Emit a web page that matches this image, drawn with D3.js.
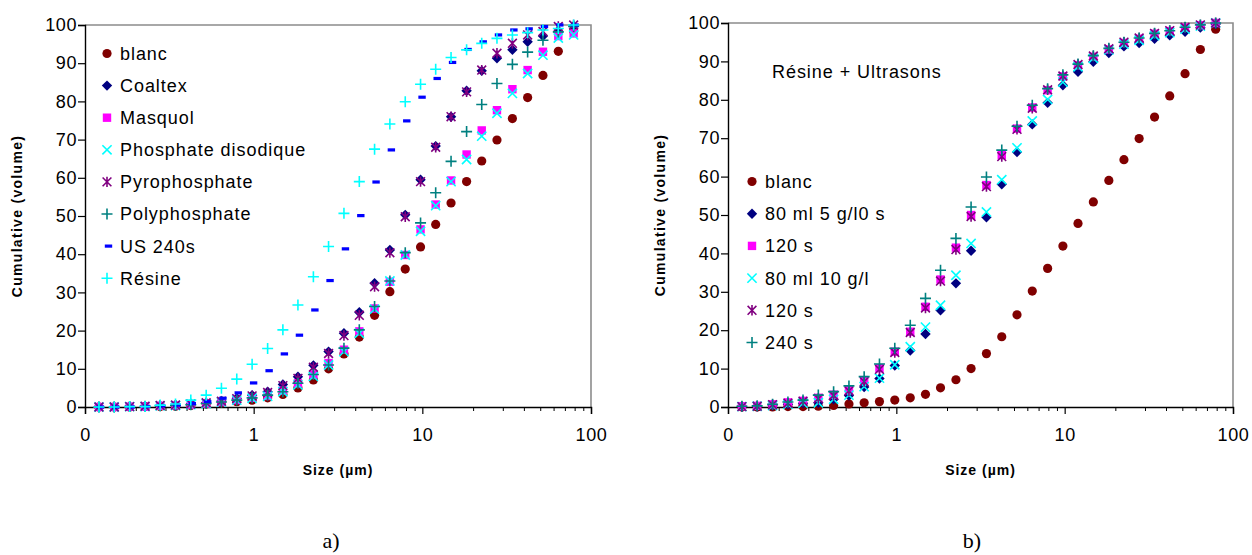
<!DOCTYPE html>
<html><head><meta charset="utf-8">
<script src="https://cdn.jsdelivr.net/npm/d3@7"></script>
<style>
body{margin:0;background:#fff}
svg{display:block}
text{fill:#000}
</style>
</head><body>
<svg id="chart" width="1252" height="555"></svg>
<script>
// ---------------- DATA ----------------
const sizes = [0.121,0.149,0.184,0.227,0.279,0.344,0.424,0.523,0.644,0.794,0.979,1.21,1.49,1.83,2.26,2.78,3.43,4.23,5.21,6.42,7.92,9.76,12.0,14.8,18.3,22.5,27.7,34.2,42.1,51.9,64.0,78.9];

// panel a
const blanc      = [0,0,0,0.1,0.1,0.2,0.4,0.8,1.1,1.4,1.8,2.4,3.3,5.0,7.1,10.0,13.9,18.3,24.0,30.2,36.1,41.9,47.8,53.4,59.0,64.4,69.9,75.5,81.0,86.8,93.1,98.4];
const coaltex    = [0,0,0.1,0.2,0.4,0.5,0.8,1.1,1.6,2.3,3.1,4.0,5.9,7.9,10.9,14.5,19.3,24.8,32.4,41.1,50.3,59.5,68.3,76.0,82.8,88.0,91.3,93.5,95.6,97.1,98.2,99.7];
const masquol    = [0,0,0.1,0.1,0.3,0.4,0.6,0.9,1.3,1.8,2.4,2.9,4.3,6.2,8.5,11.5,15.0,19.8,25.8,32.8,39.8,46.5,53.0,59.3,66.1,72.4,77.7,83.2,88.2,93.0,97.1,97.8];
const phosphate  = [0,0,0.1,0.1,0.3,0.4,0.6,0.9,1.3,1.8,2.3,2.8,4.0,5.8,8.0,11.0,14.5,19.3,25.6,33.0,39.8,46.0,52.7,59.0,64.8,70.9,76.9,82.1,87.3,92.1,96.6,97.4];
const pyro       = [0,0,0.1,0.2,0.4,0.5,0.8,1.1,1.5,2.2,2.9,3.8,5.6,7.5,10.4,14.0,18.7,24.0,31.5,40.4,49.8,59.0,68.0,76.0,82.5,88.2,92.6,95.2,97.4,98.3,99.6,100];
const polyphos   = [0,0,0.1,0.2,0.3,0.4,0.6,0.9,1.3,1.8,2.4,3.1,4.0,6.2,8.5,11.0,15.4,20.2,26.3,33.0,40.4,48.2,56.1,64.3,72.1,79.2,84.7,89.7,92.9,96.0,98.2,99.6];
const us240      = [0,0,0,0.1,0.3,0.5,0.9,1.4,2.3,3.7,6.3,9.5,13.9,18.8,25.4,33.1,41.4,50.1,58.9,67.3,74.9,81.1,86.0,90.2,93.6,95.6,97.4,98.7,99.0,99.6,100,100];
const resine     = [0,0,0.1,0.1,0.5,0.8,1.8,3.1,4.9,7.3,11.2,15.3,20.2,26.7,34.1,42.0,50.7,59.0,67.5,74.1,79.9,84.5,88.4,91.5,93.5,95.2,96.5,97.4,98.0,98.7,99.1,100];

// panel b
const b5g0s      = [0.1,0.2,0.4,0.7,1.0,1.1,2.0,3.0,5.2,7.4,10.8,14.7,19.0,25.2,32.2,40.7,49.4,58.0,66.4,73.6,79.2,83.8,87.3,89.9,92.2,93.9,94.8,95.9,96.8,97.7,98.8,99.7];
const b120sSq    = [0.2,0.3,0.7,1.2,1.6,2.4,3.2,4.4,7.0,10.1,14.4,19.6,26.1,33.2,41.5,50.0,57.8,65.6,72.5,78.0,82.5,86.1,89.0,91.2,93.1,94.8,95.9,97.2,97.9,98.8,99.4,100];
const b10g       = [0.1,0.2,0.4,0.7,1.0,1.1,2.0,3.1,5.3,7.5,11.0,15.7,20.8,26.5,34.3,42.6,50.8,59.2,67.5,74.5,80.1,84.6,88.6,90.8,93.0,94.5,95.5,96.7,97.5,98.4,99.2,100];
const b120sStar  = [0.1,0.2,0.6,1.0,1.5,2.2,3.0,4.2,6.6,9.8,14.2,19.4,25.8,32.8,41.0,49.6,57.4,65.2,72.3,77.8,82.6,86.2,89.2,91.4,93.3,95.0,96.1,97.3,98.0,98.9,99.5,100];
const b240s      = [0.2,0.3,0.7,1.3,1.8,3.1,4.0,5.5,7.9,11.2,15.3,21.3,28.3,35.6,43.9,52.1,59.9,66.9,73.1,78.6,82.9,86.5,89.3,91.5,93.4,95.0,96.1,97.3,98.0,98.9,99.5,100];

const namesA = ["blanc","Coaltex","Masquol","Phosphate disodique","Pyrophosphate","Polyphosphate","US 240s","Résine"];
const namesB = ["blanc","80 ml 5 g/l0 s","120 s","80 ml 10 g/l","120 s","240 s"];
const yTicks = [0,10,20,30,40,50,60,70,80,90,100];
const xTicks = [0.1,1,10,100];
const xTickLabels = ["0","1","10","100"];
const xMinor = [0.2,0.3,0.4,0.5,0.6,0.7,0.8,0.9,2,3,4,5,6,7,8,9,20,30,40,50,60,70,80,90];
const yTitle = "Cumulative (volume)";
const xTitle = "Size (µm)";
const panelTags = ["a)","b)"];
const noteB = "Résine + Ultrasons";

// ---------------- STYLES ----------------
const SANS = "'Liberation Sans', Arial, sans-serif";
const SERIF = "'Liberation Serif', 'Times New Roman', serif";
const SYM = {
  circle:  {d: d3.symbol(d3.symbolCircle, Math.PI*4.6*4.6)(), fill:true},
  diamond: {d: "M0,-5.2L5.2,0L0,5.2L-5.2,0Z", fill:true},
  square:  {d: "M-4.2,-4.2H4.2V4.2H-4.2Z", fill:true},
  cross:   {d: "M-4.6,-4.6L4.6,4.6M-4.6,4.6L4.6,-4.6", fill:false},
  star:    {d: "M-4.4,-4.4L4.4,4.4M-4.4,4.4L4.4,-4.4M0,-5.2V5.2", fill:false},
  plus:    {d: "M-5.5,0H5.5M0,-5.5V5.5", fill:false},
  dash:    {d: "M-2.2,-1.6H5.2V1.6H-2.2Z", fill:true}
};
const seriesA = [
  {name:namesA[0], v:blanc,     sym:"circle",  c:"#800000"},
  {name:namesA[1], v:coaltex,   sym:"diamond", c:"#000080"},
  {name:namesA[2], v:masquol,   sym:"square",  c:"#FF00FF"},
  {name:namesA[3], v:phosphate, sym:"cross",   c:"#00FFFF"},
  {name:namesA[4], v:pyro,      sym:"star",    c:"#800080"},
  {name:namesA[5], v:polyphos,  sym:"plus",    c:"#008080"},
  {name:namesA[6], v:us240,     sym:"dash",    c:"#0000FF"},
  {name:namesA[7], v:resine,    sym:"plus",    c:"#00FFFF"}
];
const seriesB = [
  {name:namesB[0], v:blanc,     sym:"circle",  c:"#800000"},
  {name:namesB[1], v:b5g0s,     sym:"diamond", c:"#000080"},
  {name:namesB[2], v:b120sSq,   sym:"square",  c:"#FF00FF"},
  {name:namesB[3], v:b10g,      sym:"cross",   c:"#00FFFF"},
  {name:namesB[4], v:b120sStar, sym:"star",    c:"#800080"},
  {name:namesB[5], v:b240s,     sym:"plus",    c:"#008080"}
];

const svg = d3.select("#chart");

function marker(g, sym, color){
  const s = SYM[sym];
  const p = g.append("path").attr("d", s.d);
  if (s.fill) p.attr("fill", color).attr("stroke","none");
  else p.attr("fill","none").attr("stroke", color).attr("stroke-width",1.6);
  return p;
}

function panel(cfg){
  const x = d3.scaleLog().domain([0.1,100]).range([cfg.x0, cfg.x1]);
  const y = d3.scaleLinear().domain([0,100]).range([cfg.yb, cfg.yt]);
  const g = svg.append("g");

  // frame (top/right gray)
  g.append("path")
    .attr("d", `M${cfg.x0},${cfg.yt}H${cfg.x1}V${cfg.yb}`)
    .attr("fill","none").attr("stroke","#8c8c8c").attr("stroke-width",1.6);

  // y axis
  const ya = g.append("g").attr("transform",`translate(${cfg.x0},0)`)
    .call(d3.axisLeft(y).tickValues(yTicks).tickSize(7).tickPadding(1).tickFormat(d3.format("d")));
  ya.select(".domain").attr("stroke","#000").attr("stroke-width",1.4);
  ya.selectAll(".tick line").attr("stroke","#000").attr("stroke-width",1.2);
  ya.selectAll(".tick text").style("font-family",SANS).style("font-size","18px").style("letter-spacing","0.6px");

  // x minor ticks
  g.append("g").attr("transform",`translate(0,${cfg.yb})`)
    .call(d3.axisBottom(x).tickValues(xMinor).tickSize(4).tickFormat(""))
    .call(a=>a.select(".domain").remove())
    .selectAll(".tick line").attr("stroke","#000").attr("stroke-width",1);
  // x axis
  const xa = g.append("g").attr("transform",`translate(0,${cfg.yb})`)
    .call(d3.axisBottom(x).tickValues(xTicks).tickSize(7).tickPadding(14)
      .tickFormat((d,i)=>xTickLabels[i]));
  xa.select(".domain").attr("stroke","#000").attr("stroke-width",1.4);
  xa.selectAll(".tick line").attr("stroke","#000").attr("stroke-width",1.2);
  xa.selectAll(".tick text").style("font-family",SANS).style("font-size","18px").style("letter-spacing","0.6px");

  // titles
  g.append("text").attr("x", (cfg.x0+cfg.x1)/2).attr("y", 475)
    .attr("text-anchor","middle").style("font-family",SANS).style("font-size","14px").style("font-weight","bold")
    .style("letter-spacing","1px").text(xTitle);
  g.append("text").attr("transform",`translate(${cfg.x0-63},${(cfg.yt+cfg.yb)/2}) rotate(-90)`)
    .attr("text-anchor","middle").style("font-family",SANS).style("font-size","14px").style("font-weight","bold")
    .style("letter-spacing","1.3px").text(yTitle);
  g.append("text").attr("x", cfg.tagX).attr("y", 548)
    .attr("text-anchor","middle").style("font-family",SERIF).style("font-size","22px").text(cfg.tag);

  // points
  cfg.series.forEach(s=>{
    const sg = g.append("g");
    s.v.forEach((v,i)=>{
      const m = sg.append("g").attr("transform",`translate(${x(sizes[i])},${y(v)})`);
      marker(m, s.sym, s.c);
    });
  });

  // legend
  cfg.series.forEach((s,i)=>{
    const ly = cfg.legY + i*cfg.legStep;
    const m = g.append("g").attr("transform",`translate(${cfg.legX},${ly})`);
    marker(m, s.sym, s.c);
    g.append("text").attr("x", cfg.legX+13).attr("y", ly).attr("dy","0.36em")
      .style("font-family",SANS).style("font-size","18px").style("letter-spacing","0.95px").text(s.name);
  });
  return {x,y,g};
}

panel({x0:85, x1:591, yb:407, yt:25, series:seriesA, legX:107, legY:53.5, legStep:32.1, tag:panelTags[0], tagX:331});
const pb = panel({x0:728, x1:1233, yb:407, yt:23, series:seriesB, legX:752, legY:181.5, legStep:32.2, tag:panelTags[1], tagX:972});
pb.g.append("text").attr("x",772).attr("y",78).style("font-family",SANS).style("font-size","18px")
  .style("letter-spacing","0.95px").text(noteB);
</script>
</body></html>
